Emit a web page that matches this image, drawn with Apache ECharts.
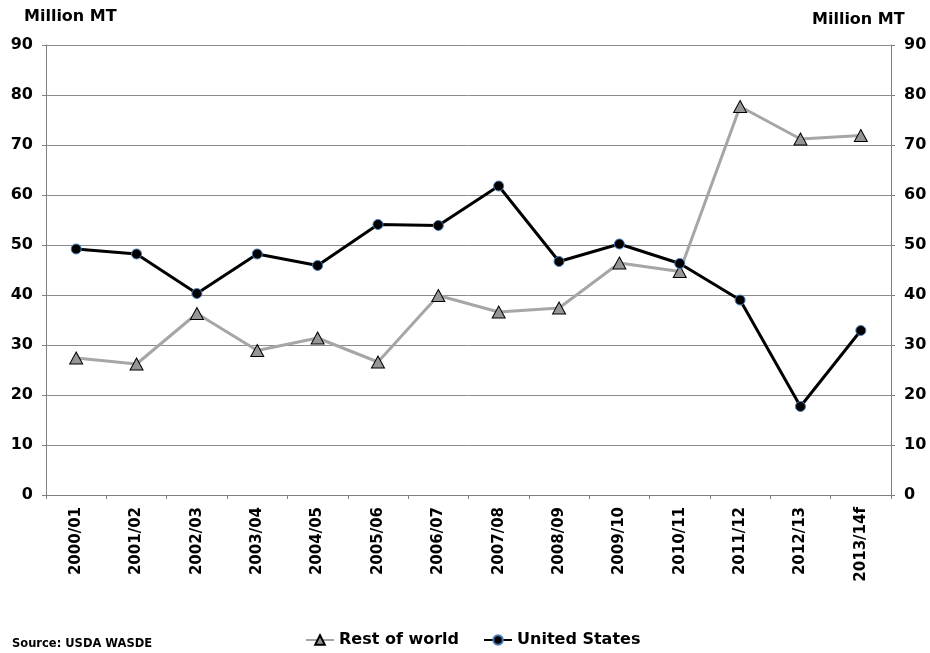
<!DOCTYPE html>
<html>
<head>
<meta charset="utf-8">
<script src="https://cdn.jsdelivr.net/npm/echarts@6/dist/echarts.min.js"></script>
<style>
  html, body { margin: 0; padding: 0; background: #fff; }
  #chart { width: 930px; height: 653px; }
</style>
</head>
<body>
<div id="chart"></div>
<script>
// Marketing years
const seasons = ['2000/01', '2001/02', '2002/03', '2003/04', '2004/05', '2005/06', '2006/07',
  '2007/08', '2008/09', '2009/10', '2010/11', '2011/12', '2012/13', '2013/14f'];

// Exports, million metric tons
const restOfWorld = [27.4, 26.2, 36.3, 28.9, 31.4, 26.6, 39.9, 36.6, 37.4, 46.4, 44.7, 77.7, 71.2, 71.9];
const unitedStates = [49.2, 48.2, 40.3, 48.2, 45.9, 54.1, 53.9, 61.8, 46.7, 50.2, 46.3, 39.0, 17.7, 32.9];

// Value axis ticks
const yMin = 0, yMax = 90, yStep = 10;

const FONT = '"DejaVu Sans", "Liberation Sans", Arial, sans-serif';
const chart = echarts.init(document.getElementById('chart'), null, { renderer: 'canvas' });

const valueAxis = (pos) => ({
  type: 'value',
  position: pos,
  min: yMin, max: yMax, interval: yStep,
  axisLine: { show: true, lineStyle: { color: '#808080', width: 1 } },
  axisTick: { show: true, length: 4, lineStyle: { color: '#808080' } },
  axisLabel: { color: '#000', fontFamily: FONT, fontWeight: 'bold', fontSize: 16, margin: 13 },
  splitLine: { show: pos === 'left', lineStyle: { color: '#8c8c8c', width: 1 } }
});

chart.setOption({
  animation: false,
  backgroundColor: '#fff',
  textStyle: { fontFamily: FONT },
  title: [
    { text: 'Million MT', left: 19, top: 4,
      textStyle: { fontFamily: FONT, fontWeight: 'bold', fontSize: 16, color: '#000' } },
    { text: 'Million MT', left: 807, top: 7,
      textStyle: { fontFamily: FONT, fontWeight: 'bold', fontSize: 16, color: '#000' } },
    { text: 'Source: USDA WASDE', left: 7, top: 633,
      textStyle: { fontFamily: FONT, fontWeight: 'bold', fontSize: 11.5, color: '#000' } }
  ],
  grid: { left: 46, right: 39, top: 45, bottom: 158, containLabel: false },
  legend: {
    left: 300, top: 627,
    itemWidth: 28, itemHeight: 12, itemGap: 24,
    textStyle: { fontFamily: FONT, fontWeight: 'bold', fontSize: 16, color: '#000' },
    data: ['Rest of world', 'United States']
  },
  xAxis: {
    type: 'category',
    data: seasons,
    boundaryGap: true,
    axisLine: { show: true, lineStyle: { color: '#808080', width: 1 } },
    axisTick: { show: true, length: 4, lineStyle: { color: '#808080' } },
    axisLabel: { rotate: 90, interval: 0, margin: 12, color: '#000',
      fontFamily: FONT, fontWeight: 'bold', fontSize: 15 }
  },
  yAxis: [valueAxis('left'), valueAxis('right')],
  series: [
    {
      name: 'Rest of world',
      type: 'line',
      data: restOfWorld,
      yAxisIndex: 0,
      symbol: 'triangle',
      symbolSize: [13, 12],
      showAllSymbol: true,
      lineStyle: { color: '#a6a6a6', width: 3 },
      itemStyle: { color: '#969696', borderColor: '#000', borderWidth: 1 },
      z: 2
    },
    {
      name: 'United States',
      type: 'line',
      data: unitedStates,
      yAxisIndex: 0,
      symbol: 'circle',
      symbolSize: 10,
      showAllSymbol: true,
      lineStyle: { color: '#000', width: 3 },
      itemStyle: { color: '#000', borderColor: '#4a7ebb', borderWidth: 1 },
      z: 3
    }
  ]
});
</script>
</body>
</html>
